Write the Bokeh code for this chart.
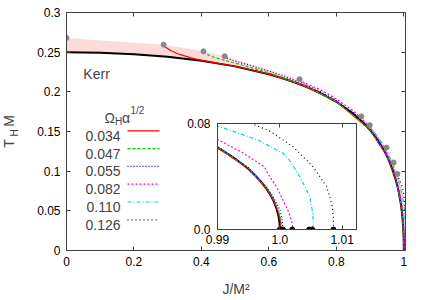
from bokeh.plotting import figure
from bokeh.models import Range1d, LinearAxis, FixedTicker, Label, Arrow
from bokeh.layouts import column
from bokeh.embed import file_html
from bokeh.resources import INLINE

FONT = "Liberation Sans"

# ---------------- data ----------------
x_ticks = [0.0, 0.2, 0.4, 0.6, 0.8, 1.0]
x_tick_labels = ["0", "0.2", "0.4", "0.6", "0.8", "1"]
y_ticks = [0.0, 0.05, 0.1, 0.15, 0.2, 0.25, 0.3]
y_tick_labels = ["0", "0.05", "0.1", "0.15", "0.2", "0.25", "0.3"]
inset_x_ticks = [0.99, 1.0, 1.01]
inset_x_tick_labels = ["0.99", "1.0", "1.01"]
inset_y_ticks = [0.0, 0.08]
inset_y_tick_labels = ["0.0", "0.08"]

kerr_j = [0.0, 0.1, 0.2, 0.3, 0.4, 0.5, 0.6, 0.65, 0.7, 0.75, 0.8, 0.85, 0.88, 0.9,
          0.92, 0.94, 0.95, 0.96, 0.97, 0.98, 0.985, 0.99, 0.991, 0.992, 0.993, 0.994,
          0.995, 0.996, 0.997, 0.998, 0.9985, 0.999, 0.9995, 0.9998, 0.99995, 1.0]
kerr_t = [0.25, 0.2494, 0.2475, 0.2441, 0.2391, 0.2321, 0.2222, 0.2159, 0.2083, 0.1991,
          0.1875, 0.1725, 0.1610, 0.1518, 0.1408, 0.1272, 0.1190, 0.1094, 0.0978, 0.0830,
          0.0736, 0.0618, 0.0590, 0.0560, 0.0528, 0.0493, 0.0454, 0.0410, 0.0359, 0.0297,
          0.0260, 0.0214, 0.0153, 0.0098, 0.0050, 0.0]

legend_labels = ["0.034", "0.047", "0.055", "0.082", "0.110", "0.126"]

j_034 = [0.288, 0.293, 0.31, 0.33, 0.35, 0.37, 0.39, 0.42, 0.5, 0.6, 0.7, 0.8, 0.9,
         0.95, 0.98, 0.99, 0.995, 0.998, 0.999, 0.9997, 1.0001, 1.00015]
t_034 = [0.2594, 0.2565, 0.2518, 0.2480, 0.2453, 0.2428, 0.2405, 0.2380, 0.2322, 0.2224,
         0.2085, 0.1877, 0.1520, 0.1193, 0.0833, 0.0621, 0.0457, 0.0300, 0.0218, 0.0140,
         0.0060, 0.0]

j_047 = [0.406, 0.41, 0.425, 0.44, 0.46, 0.48, 0.5, 0.53, 0.56, 0.6, 0.7, 0.8, 0.9,
         0.95, 0.98, 0.99, 0.995, 0.998, 0.999, 0.9997, 1.0002, 1.0003]
t_047 = [0.251, 0.2488, 0.2455, 0.2432, 0.2408, 0.2385, 0.2362, 0.2325, 0.2290, 0.2240,
         0.2090, 0.1880, 0.1523, 0.1195, 0.0836, 0.0624, 0.0462, 0.0308, 0.0232, 0.0150,
         0.0070, 0.0]

j_055 = [0.469, 0.475, 0.49, 0.51, 0.54, 0.57, 0.6, 0.65, 0.7, 0.75, 0.8, 0.85, 0.9,
         0.95, 0.98, 0.99, 0.995, 0.998, 0.999, 1.0, 1.0004, 1.0005]
t_055 = [0.245, 0.2428, 0.2402, 0.2375, 0.2340, 0.2300, 0.2262, 0.2190, 0.2108, 0.2010,
         0.1890, 0.1738, 0.1530, 0.1203, 0.0842, 0.0628, 0.0466, 0.0314, 0.0240, 0.0150,
         0.0070, 0.0]

j_082 = [0.691, 0.695, 0.71, 0.73, 0.76, 0.8, 0.85, 0.9, 0.93, 0.95, 0.97, 0.98, 0.9903,
         0.994, 0.9975, 0.9983, 0.9995, 1.0005, 1.0015, 1.002, 1.0021]
t_082 = [0.216, 0.2135, 0.2105, 0.2070, 0.2010, 0.1910, 0.1762, 0.1555, 0.1375, 0.1228,
         0.1025, 0.0880, 0.0672, 0.0580, 0.0475, 0.0405, 0.0320, 0.0224, 0.0123, 0.0048, 0.0]

j_110 = [0.899, 0.903, 0.91, 0.93, 0.95, 0.97, 0.98, 0.9903, 0.9964, 1.0005, 1.0013,
         1.0032, 1.0048, 1.0053, 1.00534, 1.00535]
t_110 = [0.158, 0.1545, 0.1505, 0.1385, 0.1245, 0.1060, 0.0935, 0.0777, 0.0677, 0.0576,
         0.0540, 0.0400, 0.0249, 0.0123, 0.0048, 0.0]

j_126 = [0.981, 0.985, 0.99, 0.9953, 0.9983, 1.0021, 1.0053, 1.0075, 1.0083, 1.0086, 1.0086]
t_126 = [0.0965, 0.0915, 0.0862, 0.0802, 0.0745, 0.0626, 0.0475, 0.0325, 0.0199, 0.0098, 0.0]

dot_j = [0.0, 0.288, 0.406, 0.469, 0.691, 0.874, 0.899, 0.949, 0.970, 0.981]
dot_t = [0.268, 0.2594, 0.251, 0.245, 0.216, 0.169, 0.158, 0.1297, 0.111, 0.0965]

band_j = [0.0, 0.288, 0.406, 0.469, 0.691, 0.874, 0.899, 0.949, 0.970, 0.981,
          0.9953, 1.0021, 1.0053, 1.0086]
band_t = [0.268, 0.2594, 0.251, 0.245, 0.216, 0.169, 0.158, 0.1297, 0.111, 0.0965,
          0.0802, 0.0626, 0.0475, 0.0]

end_j = [1.0, 1.0002, 1.0005, 1.002, 1.0047, 1.0052, 1.0086]
end_t = [0.0, 0.0, 0.0, 0.0, 0.0, 0.0, 0.0]

series = [
    (j_034, t_034, "#ff0000", "solid"),
    (j_047, t_047, "#00cc00", "3 2"),
    (j_055, t_055, "#0000ff", "1 2"),
    (j_082, t_082, "#ff00ff", "2 2"),
    (j_110, t_110, "#00d8d8", "4 2 1 2"),
    (j_126, t_126, "#000000", "1 3"),
]

AX = "#404040"
MAIN_H = 294


def style_axis(ax, ticks, labels, size="12px", standoff=6):
    ax.ticker = FixedTicker(ticks=ticks)
    ax.major_label_overrides = {t: l for t, l in zip(ticks, labels)}
    ax.major_label_text_font = FONT
    ax.major_label_text_font_size = size
    ax.major_label_text_color = "black"
    ax.major_label_standoff = standoff
    ax.major_tick_in = 4
    ax.major_tick_out = 0
    ax.minor_tick_line_color = None
    ax.axis_line_color = AX
    ax.major_tick_line_color = AX


def mirror_axis(fig, ticks, side):
    ax = LinearAxis(ticker=FixedTicker(ticks=ticks),
                    major_label_overrides={t: "" for t in ticks},
                    major_label_text_font_size="1px",
                    major_label_standoff=0, major_tick_in=4, major_tick_out=0,
                    minor_tick_line_color=None, axis_line_color=AX,
                    major_tick_line_color=AX)
    fig.add_layout(ax, side)


def overlay(width, height, left, top):
    """Transparent helper canvas laid over the main chart (holds axis titles)."""
    f = figure(width=width, height=height, x_range=Range1d(0, 1), y_range=Range1d(0, 1),
               output_backend="svg", toolbar_location=None, min_border=0,
               x_axis_location=None, y_axis_location=None, frame_align=False,
               margin=(top - MAIN_H, 0, MAIN_H - top - height, left))
    f.xgrid.visible = False
    f.ygrid.visible = False
    f.outline_line_color = None
    f.background_fill_color = None
    f.border_fill_color = None
    return f


# ---------------- main figure ----------------
p = figure(width=418, height=MAIN_H, x_range=Range1d(0, 1.005), y_range=Range1d(0, 0.3),
           output_backend="svg", toolbar_location=None, frame_align=False,
           min_border_left=66, min_border_right=13, min_border_top=12, min_border_bottom=44)
p.xgrid.visible = False
p.ygrid.visible = False
p.outline_line_color = AX
p.background_fill_color = "white"
p.border_fill_color = "white"

style_axis(p.xaxis[0], x_ticks, x_tick_labels, standoff=6)
style_axis(p.yaxis[0], y_ticks, y_tick_labels, standoff=6)
mirror_axis(p, y_ticks, "right")
mirror_axis(p, x_ticks, "above")

# shaded band between Kerr and the grey points
p.patch(band_j + kerr_j[::-1], band_t + kerr_t[::-1], fill_color="#ffdada",
        line_color=None)
p.line(kerr_j, kerr_t, line_color="black", line_width=2)

for i, (jj, tt, col, dash) in enumerate(series):
    p.line(jj, tt, line_color=col, line_width=1.2, line_dash=dash)
    # legend: number, then the line sample to its right
    p.add_layout(Label(x=54, y=114.7 - 17.8 * i, x_units="screen", y_units="screen",
                       text=legend_labels[i], text_align="right", text_font=FONT,
                       text_font_size="14px", text_baseline="alphabetic"))
    p.add_layout(Arrow(end=None, x_start=61, x_end=93, y_start=119.7 - 17.8 * i,
                       y_end=119.7 - 17.8 * i, start_units="screen", end_units="screen",
                       line_color=col, line_width=1.2, line_dash=dash))

p.scatter(dot_j, dot_t, size=5, fill_color="#888888", line_color="#888888")

# legend title  Ω_H α^{1/2}
p.add_layout(Label(x=38, y=133, x_units="screen", y_units="screen", text="Ω",
                   text_font=FONT, text_font_size="14px", text_baseline="alphabetic"))
p.add_layout(Label(x=48.5, y=129.5, x_units="screen", y_units="screen", text="H",
                   text_font=FONT, text_font_size="10px", text_baseline="alphabetic"))
p.add_layout(Label(x=55.5, y=133, x_units="screen", y_units="screen", text="α",
                   text_font=FONT, text_font_size="14px", text_baseline="alphabetic"))
p.add_layout(Label(x=64, y=140, x_units="screen", y_units="screen", text="1/2",
                   text_font=FONT, text_font_size="10px", text_baseline="alphabetic"))

p.add_layout(Label(x=0.05, y=0.2225, text="Kerr", text_font=FONT, text_font_size="14px",
                   text_baseline="alphabetic"))

# ---------------- inset ----------------
INS_TOP = 115
INS_H = 138
ins = figure(frame_width=139, frame_height=106,
             x_range=Range1d(0.99, 1.0123), y_range=Range1d(0, 0.08),
             output_backend="svg", toolbar_location=None, frame_align=False,
             min_border_left=64, min_border_right=4, min_border_top=8, min_border_bottom=24,
             margin=(INS_TOP - MAIN_H, 0, MAIN_H - INS_TOP - INS_H, 153))
ins.xgrid.visible = False
ins.ygrid.visible = False
ins.border_fill_color = None
ins.background_fill_color = "white"
ins.outline_line_color = "black"
style_axis(ins.xaxis[0], inset_x_ticks, inset_x_tick_labels, standoff=5)
style_axis(ins.yaxis[0], inset_y_ticks, inset_y_tick_labels, standoff=7)
mirror_axis(ins, inset_y_ticks, "right")
mirror_axis(ins, inset_x_ticks, "above")

ins.line(kerr_j, kerr_t, line_color="black", line_width=2)
for jj, tt, col, dash in series:
    ins.line(jj, tt, line_color=col, line_width=1.2, line_dash=dash)
ins.scatter(end_j, end_t, size=5, fill_color="black", line_color="black")

# ---------------- y-axis title  T_H M ----------------
yl = overlay(30, 60, 0, 98)
for txt, sx, sy, fs in [("T", 8, 15, "14px"), ("H", 14, 25.5, "10px"), ("M", 8, 37.5, "14px")]:
    yl.add_layout(Label(x=sx, y=sy, x_units="screen", y_units="screen", text=txt,
                        angle=1.5708, text_align="center", text_baseline="middle",
                        text_font=FONT, text_font_size=fs))

# ---------------- x-axis title  J/M² ----------------
xl = overlay(120, 60, 180, 234)
xl.add_layout(Label(x=55.5, y=6, x_units="screen", y_units="screen", text="J/M²",
                    text_align="center", text_baseline="alphabetic",
                    text_font=FONT, text_font_size="14px"))

layout = column(p, ins, yl, xl, spacing=0)
open("out.html", "w").write(file_html(layout, INLINE))
